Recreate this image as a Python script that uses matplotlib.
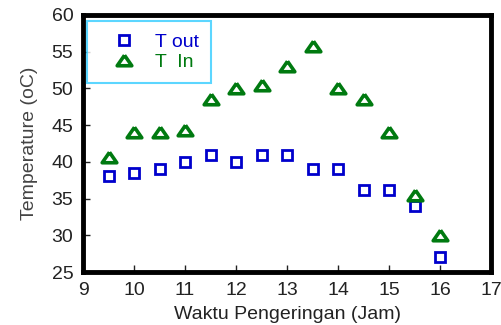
import matplotlib
matplotlib.use("Agg")
import matplotlib.pyplot as plt

plt.rcParams['font.family'] = ['Liberation Sans', 'DejaVu Sans']

hours = [9.5, 10, 10.5, 11, 11.5, 12, 12.5, 13, 13.5, 14, 14.5, 15, 15.5, 16]
t_out = [38.1, 38.5, 39.0, 40.0, 41.0, 40.0, 41.0, 41.0, 39.0, 39.0, 36.2, 36.2, 34.0, 27.0]
t_in = [40.6, 44.1, 44.0, 44.4, 48.5, 50.0, 50.4, 53.0, 55.8, 50.0, 48.5, 44.0, 35.5, 30.0]

x_ticks = list(range(9, 18))
y_ticks = list(range(25, 61, 5))

# a slightly squat open triangle
tri = [(0, 0.72), (-1, -0.72), (1, -0.72), (0, 0.72)]

fig = plt.figure(figsize=(5.01, 3.25), dpi=100)
ax = fig.add_axes([0.166, 0.163, 0.814, 0.791])

ax.plot(hours, t_out, linestyle='none', marker='s', markersize=7.8,
        markerfacecolor='none', markeredgecolor='#0000cc', markeredgewidth=2.0,
        label='T out')
ax.plot(hours, t_in, linestyle='none', marker=tri, markersize=10.5,
        markerfacecolor='none', markeredgecolor='#007a10', markeredgewidth=2.6,
        label='T  In')

ax.set_xlim(9, 17)
ax.set_ylim(25, 60)
ax.set_xticks(x_ticks)
ax.set_yticks(y_ticks)
ax.tick_params(direction='in', length=5, width=1, labelsize=14,
               colors='#222222', pad=7, top=False, right=False)
for s in ax.spines.values():
    s.set_linewidth(3.5)
    s.set_color('black')

ax.set_xlabel('Waktu Pengeringan (Jam)', fontsize=14, color='#222222', labelpad=5)
ax.set_ylabel('Temperature (oC)', fontsize=14, color='#444444', labelpad=10)

leg = ax.legend(loc='upper left', bbox_to_anchor=(0.0, 0.99), fontsize=14,
                frameon=True, fancybox=False, borderpad=0.6,
                handletextpad=0.3, labelspacing=0.15, borderaxespad=0.2,
                handlelength=2.6)
leg.get_frame().set_edgecolor('#33ccff')
leg.get_frame().set_linewidth(1.5)
for txt, c in zip(leg.get_texts(), ['#0000cc', '#007a10']):
    txt.set_color(c)

fig.savefig('out.png', dpi=100)
